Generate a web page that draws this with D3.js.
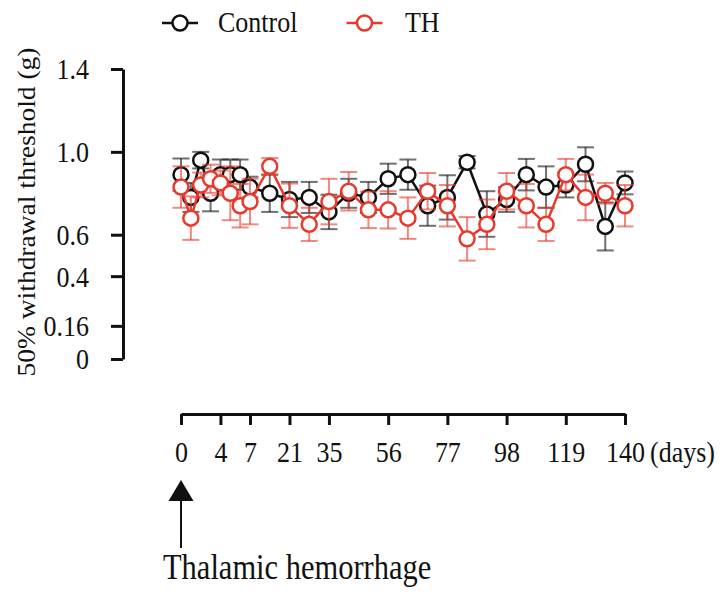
<!DOCTYPE html>
<meta charset="utf-8">
<script src="https://d3js.org/d3.v7.min.js"></script>
<style>
  body { margin: 0; background: #fff; }
  text { font-family: "Liberation Serif", "Times New Roman", serif; fill: #111; }
</style>
<svg id="chart" width="728" height="597"></svg>
<script>
  // days after the hemorrhage (x categories)
  var days = [0,1,2,3,4,5,6,7,14,21,28,35,42,49,56,63,70,77,84,91,98,105,112,119,126,133,140];
  // 50% withdrawal threshold, mean and error
  var control    = [0.89,0.78,0.96,0.80,0.89,0.89,0.89,0.83,0.80,0.77,0.78,0.71,0.80,0.78,0.87,0.89,0.74,0.78,0.95,0.70,0.77,0.89,0.83,0.84,0.94,0.64,0.85];
  var controlErr = [0.078,0.07,0.04,0.087,0.073,0.073,0.073,0.05,0.09,0.085,0.075,0.083,0.07,0.075,0.073,0.073,0.097,0.107,0.03,0.11,0.06,0.076,0.1,0.06,0.082,0.116,0.055];
  var th         = [0.83,0.68,0.84,0.87,0.85,0.80,0.74,0.76,0.93,0.74,0.65,0.76,0.81,0.72,0.72,0.68,0.81,0.74,0.58,0.65,0.81,0.74,0.65,0.89,0.78,0.80,0.74];
  var thErr      = [0.1,0.105,0.06,0.068,0.06,0.13,0.105,0.11,0.04,0.107,0.08,0.11,0.093,0.088,0.09,0.1,0.088,0.1,0.105,0.12,0.088,0.105,0.08,0.076,0.11,0.05,0.1];
  // axis ticks
  var xTicks = [0,4,7,21,35,56,77,98,119,140];
  var yTicks = [0,0.16,0.4,0.6,1.0,1.4];
  var yLabels = ["0","0.16","0.4","0.6","1.0","1.4"];

  var red = "#e8392c";
  var sy = 1.15; // the picture's text is a bit stretched vertically

  var svg = d3.select("#chart");

  // x is split: first week is stretched out
  var x = d3.scaleLinear().domain([0, 7, 140]).range([181, 250, 625]);
  var y = d3.scaleLinear().domain([0, 1.4]).range([359, 69]);

  // y axis
  var gy = svg.append("g")
      .attr("transform", "translate(123,0)")
      .call(d3.axisLeft(y).tickValues(yTicks).tickSize(12).tickSizeOuter(0)
        .tickFormat(function(d, i) { return yLabels[i]; }));
  gy.select(".domain").attr("stroke", "#111").attr("stroke-width", 3);
  gy.selectAll(".tick line").attr("stroke", "#111").attr("stroke-width", 3);
  gy.selectAll(".tick text")
      .attr("x", -34).attr("dy", "0.33em")
      .attr("transform", "scale(1," + sy + ")")
      .style("font-size", "26px").style("font-family", "Liberation Serif");

  // x axis, drawn lower, away from the plot
  var gx = svg.append("g")
      .attr("transform", "translate(0,414)")
      .call(d3.axisBottom(x).tickValues(xTicks).tickSize(11).tickSizeOuter(0));
  gx.select(".domain").attr("stroke", "#111").attr("stroke-width", 3);
  gx.selectAll(".tick line").attr("stroke", "#111").attr("stroke-width", 3);
  gx.selectAll(".tick text")
      .attr("y", 48 / sy).attr("dy", 0)
      .attr("transform", "scale(1," + sy + ")")
      .style("font-size", "26px").style("font-family", "Liberation Serif");

  svg.append("text")
      .attr("transform", "translate(650,462) scale(1," + sy + ")")
      .style("font-size", "26px")
      .text("(days)");

  // y title
  svg.append("text")
      .attr("transform", "translate(35,212) scale(1,1.1) rotate(-90)")
      .attr("text-anchor", "middle")
      .style("font-size", "25px")
      .text("50% withdrawal threshold (g)");

  // series
  function drawSeries(vals, errs, color) {
    var pts = days.map(function(d, i) { return {d: d, v: vals[i], e: errs[i]}; });
    var g = svg.append("g");
    var eb = g.append("g").attr("stroke", color).attr("stroke-opacity", 0.6).attr("stroke-width", 2);
    eb.selectAll(".stem").data(pts).enter().append("line")
      .attr("x1", function(p) { return x(p.d); }).attr("x2", function(p) { return x(p.d); })
      .attr("y1", function(p) { return y(p.v + p.e); }).attr("y2", function(p) { return y(p.v - p.e); });
    eb.selectAll(".capt").data(pts).enter().append("line")
      .attr("x1", function(p) { return x(p.d) - 8.5; }).attr("x2", function(p) { return x(p.d) + 8.5; })
      .attr("y1", function(p) { return y(p.v + p.e); }).attr("y2", function(p) { return y(p.v + p.e); });
    eb.selectAll(".capb").data(pts).enter().append("line")
      .attr("x1", function(p) { return x(p.d) - 8.5; }).attr("x2", function(p) { return x(p.d) + 8.5; })
      .attr("y1", function(p) { return y(p.v - p.e); }).attr("y2", function(p) { return y(p.v - p.e); });

    g.append("path")
      .datum(pts)
      .attr("fill", "none")
      .attr("stroke", color)
      .attr("stroke-width", 2.5)
      .attr("d", d3.line().x(function(p) { return x(p.d); }).y(function(p) { return y(p.v); }));

    g.selectAll("circle").data(pts).enter().append("circle")
      .attr("cx", function(p) { return x(p.d); })
      .attr("cy", function(p) { return y(p.v); })
      .attr("r", 7.5)
      .attr("fill", "#fff")
      .attr("stroke", color)
      .attr("stroke-width", 2.5);
  }
  drawSeries(control, controlErr, "#111");
  drawSeries(th, thErr, red);

  // legend
  var legend = [
    {name: "Control", color: "#111", cx: 180, tx: 218},
    {name: "TH", color: red, cx: 364.5, tx: 405}
  ];
  legend.forEach(function(l) {
    svg.append("line")
      .attr("x1", l.cx - 18).attr("x2", l.cx + 18).attr("y1", 23).attr("y2", 23)
      .attr("stroke", l.color).attr("stroke-width", 2.5);
    svg.append("circle")
      .attr("cx", l.cx).attr("cy", 23).attr("r", 7.5)
      .attr("fill", "#fff").attr("stroke", l.color).attr("stroke-width", 2.5);
    svg.append("text")
      .attr("transform", "translate(" + l.tx + ",32) scale(1," + sy + ")")
      .style("font-size", "26px")
      .text(l.name);
  });

  // arrow marking the hemorrhage at day 0
  var ax = x(0);
  svg.append("line")
    .attr("x1", ax).attr("x2", ax).attr("y1", 500).attr("y2", 548)
    .attr("stroke", "#111").attr("stroke-width", 2);
  svg.append("path")
    .attr("d", "M" + ax + ",480 L" + (ax - 12.5) + ",501 L" + (ax + 12.5) + ",501 Z")
    .attr("fill", "#111");
  svg.append("text")
    .attr("transform", "translate(163,579) scale(1,1.2)")
    .style("font-size", "30.5px")
    .text("Thalamic hemorrhage");
</script>
